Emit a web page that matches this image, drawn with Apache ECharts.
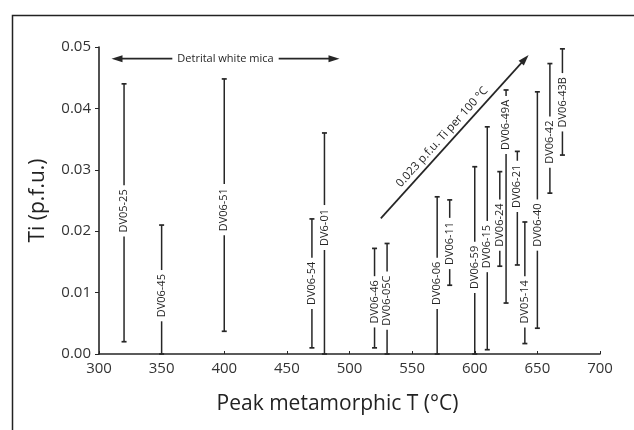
<!DOCTYPE html>
<html>
<head>
<meta charset="utf-8">
<script src="https://cdn.jsdelivr.net/npm/echarts@6/dist/echarts.min.js"></script>
<style>
html, body { margin: 0; padding: 0; background: #fff; }
#chart { width: 634px; height: 430px; }
</style>
</head>
<body>
<div id="chart"></div>
<script>
// sample names, peak T (°C), Ti range (p.f.u.) and where the label sits
const samples = ['DV05-25', 'DV06-45', 'DV06-51', 'DV06-54', 'DV6-01', 'DV06-46', 'DV06-05C', 'DV06-06', 'DV06-11',
  'DV06-59', 'DV06-15', 'DV06-24', 'DV06-49A', 'DV06-21', 'DV05-14', 'DV06-40', 'DV06-42', 'DV06-43B'];
const peakT = [320, 350, 400, 470, 480, 520, 530, 570, 580, 600, 610, 620, 625, 634, 640, 650, 660, 670];
const tiLow = [0.002, 0, 0.0037, 0.001, 0, 0.001, 0, 0, 0.0112, 0, 0.0007, 0.0143, 0.0083, 0.0145, 0.0017, 0.0042, 0.0262, 0.0324];
const tiHigh = [0.044, 0.021, 0.0448, 0.022, 0.036, 0.0172, 0.018, 0.0256, 0.0251, 0.0305, 0.037, 0.0297, 0.043, 0.033, 0.0215, 0.0427, 0.0473, 0.0497];
const labelTi = [0.0233, 0.0095, 0.0235, 0.0115, 0.0206, 0.0085, 0.0087, 0.0115, 0.018, 0.0141, 0.0175, 0.021, 0.0373, 0.0273, 0.0085, 0.021, 0.0345, 0.041];

// annotations (data coordinates)
const micaArrow = [310, 492, 0.0481];   // from T, to T, at Ti
const micaText = 'Detrital white mica';
const trendArrow = [[525, 0.0221], [643, 0.0487]];
const trendText = '0.023 p.f.u. Ti per 100 °C';

const FONT = '"Open Sans", "DejaVu Sans", sans-serif';
const INK = '#262626';

let measureCtx = document.createElement('canvas').getContext('2d');
function textWidth(s, size) {
  measureCtx.font = size + 'px ' + FONT;
  return measureCtx.measureText(s).width;
}

function seg(x1, y1, x2, y2, w) {
  return { type: 'line', shape: { x1: x1, y1: y1, x2: x2, y2: y2 }, style: { stroke: INK, lineWidth: w || 1.5 } };
}

function arrowHead(tipX, tipY, fromX, fromY) {
  let a = Math.atan2(tipY - fromY, tipX - fromX);
  let len = 11, wid = 3.5;
  let bx = tipX - Math.cos(a) * len, by = tipY - Math.sin(a) * len;
  return {
    type: 'polygon',
    shape: { points: [[tipX, tipY], [bx - Math.sin(a) * wid, by + Math.cos(a) * wid], [bx + Math.sin(a) * wid, by - Math.cos(a) * wid]] },
    style: { fill: INK }
  };
}

function renderRange(params, api) {
  let x = api.coord([api.value(0), 0])[0];
  let yLo = api.coord([api.value(0), api.value(1)])[1];
  let yHi = api.coord([api.value(0), api.value(2)])[1];
  let yLab = api.coord([api.value(0), api.value(3)])[1];
  let name = samples[params.dataIndex];
  let half = textWidth(name, 11) / 2 + 4;
  let kids = [];
  if (yLab - half > yHi + 1) kids.push(seg(x, yHi, x, yLab - half));
  if (yLab + half < yLo - 1) kids.push(seg(x, yLab + half, x, yLo));
  kids.push(seg(x - 2.5, yHi, x + 2.5, yHi, 1.7));
  kids.push(seg(x - 2.5, yLo, x + 2.5, yLo, 1.7));
  kids.push({
    type: 'text', x: x, y: yLab, rotation: Math.PI / 2,
    style: { text: name, x: 0, y: 0, align: 'center', verticalAlign: 'middle', font: '11px ' + FONT, fill: INK }
  });
  return { type: 'group', children: kids };
}

function renderNotes(params, api) {
  let kids = [];
  // detrital mica double arrow
  let a = api.coord([micaArrow[0], micaArrow[2]]);
  let b = api.coord([micaArrow[1], micaArrow[2]]);
  let cx = (a[0] + b[0]) / 2;
  let half = textWidth(micaText, 11) / 2 + 5;
  kids.push(seg(a[0] + 6, a[1], cx - half, a[1], 1.6));
  kids.push(seg(cx + half, b[1], b[0] - 6, b[1], 1.6));
  kids.push(arrowHead(a[0], a[1], b[0], b[1]));
  kids.push(arrowHead(b[0], b[1], a[0], a[1]));
  kids.push({
    type: 'text', x: cx, y: a[1],
    style: { text: micaText, x: 0, y: 0, align: 'center', verticalAlign: 'middle', font: '11px ' + FONT, fill: INK }
  });
  // trend arrow
  let s = api.coord(trendArrow[0]);
  let e = api.coord(trendArrow[1]);
  kids.push(seg(s[0], s[1], e[0] - (e[0] - s[0]) * 0.03, e[1] - (e[1] - s[1]) * 0.03, 1.7));
  kids.push(arrowHead(e[0], e[1], s[0], s[1]));
  let dx = e[0] - s[0], dy = e[1] - s[1];
  let L = Math.sqrt(dx * dx + dy * dy);
  let ux = dx / L, uy = dy / L;
  let t = 0.46 * L;
  let px = s[0] + ux * t + uy * 9;
  let py = s[1] + uy * t - ux * 9;
  kids.push({
    type: 'text', x: px, y: py, rotation: Math.atan2(-dy, dx),
    style: { text: trendText, x: 0, y: 0, align: 'center', verticalAlign: 'middle', font: '11.5px ' + FONT, fill: INK }
  });
  return { type: 'group', children: kids };
}

let myChart = echarts.init(document.getElementById('chart'), null, { renderer: 'canvas' });
let option = {
  backgroundColor: '#fff',
  animation: false,
  grid: { left: 99, right: 34, top: 47, bottom: 76 },
  xAxis: {
    type: 'value', min: 300, max: 700, interval: 50,
    name: 'Peak metamorphic T (°C)', nameLocation: 'middle', nameGap: 40,
    nameTextStyle: { fontFamily: FONT, fontSize: 21, color: '#222', padding: [0, 24, 0, 0] },
    axisLine: { show: true, lineStyle: { color: INK, width: 1.6 } },
    axisTick: { show: true, inside: true, length: 3, lineStyle: { color: INK } },
    axisLabel: { fontFamily: FONT, fontSize: 15, color: '#333', margin: 7 },
    splitLine: { show: false }
  },
  yAxis: {
    type: 'value', min: 0, max: 0.05, interval: 0.01,
    name: 'Ti (p.f.u.)', nameLocation: 'middle', nameGap: 50,
    nameTextStyle: { fontFamily: FONT, fontSize: 21, color: '#222' },
    axisLine: { show: true, lineStyle: { color: INK, width: 1.6 } },
    axisTick: { show: true, length: 4, lineStyle: { color: INK } },
    axisLabel: { fontFamily: FONT, fontSize: 15, color: '#333', margin: 8, formatter: function (v) { return v.toFixed(2); } },
    splitLine: { show: false }
  },
  graphic: [{
    type: 'rect', left: 10, top: 13, silent: true,
    shape: { x: 0, y: 0, width: 700, height: 500 },
    style: { fill: 'none', stroke: '#222', lineWidth: 1.5 }
  }],
  series: [
    {
      type: 'custom', name: 'ranges',
      renderItem: renderRange,
      encode: { x: 0, y: [1, 2] },
      data: peakT.map(function (t, i) { return [t, tiLow[i], tiHigh[i], labelTi[i]]; })
    },
    {
      type: 'custom', name: 'notes',
      renderItem: renderNotes,
      data: [[micaArrow[0], micaArrow[2]]]
    }
  ]
};
myChart.setOption(option);
</script>
</body>
</html>
